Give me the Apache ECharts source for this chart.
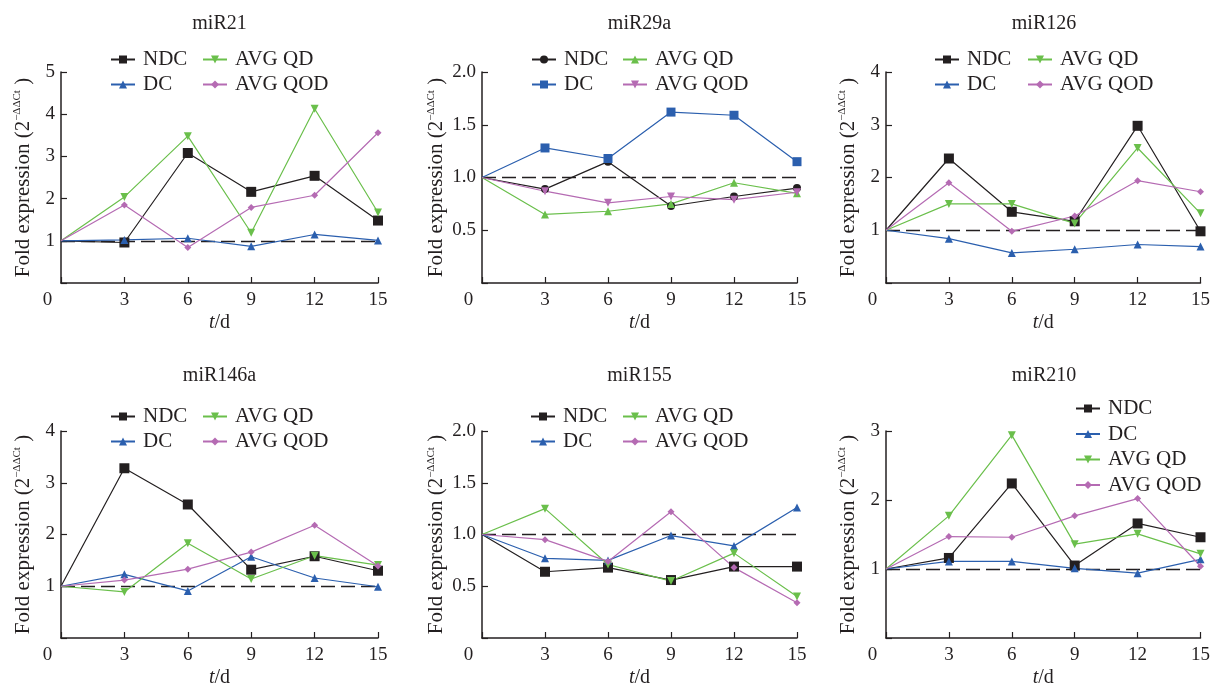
<!DOCTYPE html>
<html>
<head>
<meta charset="utf-8">
<script src="https://cdn.jsdelivr.net/npm/echarts@6/dist/echarts.min.js"></script>
<style>
html,body{margin:0;padding:0;background:#fff;}
#chart{width:1213px;height:689px;}
</style>
</head>
<body>
<div id="chart"></div>
<script>
// ---- data ----
const days = [0, 3, 6, 9, 12, 15];
const groupNames = ['NDC', 'DC', 'AVG QD', 'AVG QOD'];
const panelTitles = ['miR21', 'miR29a', 'miR126', 'miR146a', 'miR155', 'miR210'];
const yMaxes = [5, 2, 4, 4, 2, 3];
const yIntervals = [1, 0.5, 1, 1, 0.5, 1];
const baselineValue = 1;

const miR21_NDC = [1, 0.96, 3.08, 2.16, 2.54, 1.48];
const miR21_DC = [1, 1.02, 1.06, 0.87, 1.15, 1.01];
const miR21_QD = [1, 2.04, 3.48, 1.19, 4.13, 1.67];
const miR21_QOD = [1, 1.85, 0.84, 1.79, 2.08, 3.56];

const miR29a_NDC = [1, 0.89, 1.15, 0.73, 0.82, 0.90];
const miR29a_DC = [1, 1.28, 1.18, 1.62, 1.59, 1.15];
const miR29a_QD = [1, 0.65, 0.68, 0.75, 0.95, 0.85];
const miR29a_QOD = [1, 0.87, 0.76, 0.82, 0.79, 0.86];

const miR126_NDC = [1, 2.36, 1.35, 1.17, 2.98, 0.98];
const miR126_DC = [1, 0.84, 0.57, 0.64, 0.73, 0.69];
const miR126_QD = [1, 1.50, 1.50, 1.13, 2.56, 1.32];
const miR126_QOD = [1, 1.90, 0.98, 1.27, 1.94, 1.73];

const miR146a_NDC = [1, 3.28, 2.58, 1.32, 1.58, 1.30];
const miR146a_DC = [1, 1.23, 0.91, 1.57, 1.16, 0.99];
const miR146a_QD = [1, 0.89, 1.83, 1.14, 1.59, 1.41];
const miR146a_QOD = [1, 1.12, 1.33, 1.66, 2.18, 1.39];

const miR155_NDC = [1, 0.64, 0.68, 0.56, 0.69, 0.69];
const miR155_DC = [1, 0.77, 0.75, 0.99, 0.89, 1.26];
const miR155_QD = [1, 1.25, 0.71, 0.55, 0.82, 0.40];
const miR155_QOD = [1, 0.95, 0.74, 1.22, 0.68, 0.34];

const miR210_NDC = [1, 1.16, 2.24, 1.05, 1.66, 1.46];
const miR210_DC = [1, 1.11, 1.11, 1.01, 0.94, 1.14];
const miR210_QD = [1, 1.77, 2.94, 1.36, 1.51, 1.22];
const miR210_QOD = [1, 1.47, 1.46, 1.77, 2.02, 1.04];

const panelValues = [
  [miR21_NDC, miR21_DC, miR21_QD, miR21_QOD],
  [miR29a_NDC, miR29a_DC, miR29a_QD, miR29a_QOD],
  [miR126_NDC, miR126_DC, miR126_QD, miR126_QOD],
  [miR146a_NDC, miR146a_DC, miR146a_QD, miR146a_QOD],
  [miR155_NDC, miR155_DC, miR155_QD, miR155_QOD],
  [miR210_NDC, miR210_DC, miR210_QD, miR210_QOD]
];

// ---- styles ----
const FONT = '"Liberation Serif", "DejaVu Serif", serif';
const INK = '#231f20';
const colors = ['#231f20', '#2b5fae', '#6abf4b', '#b56bb3'];
const defaultSymbols = [
  {symbol: 'rect', size: 10, rotate: 0},
  {symbol: 'triangle', size: 8, rotate: 0},
  {symbol: 'triangle', size: 8, rotate: 180},
  {symbol: 'diamond', size: 7, rotate: 0}
];
const mir29Symbols = [
  {symbol: 'circle', size: 8, rotate: 0},
  {symbol: 'rect', size: 9, rotate: 0},
  {symbol: 'triangle', size: 8, rotate: 0},
  {symbol: 'triangle', size: 8, rotate: 180}
];

const grids = [
  {left: 61, top: 72, width: 317, height: 211},
  {left: 482, top: 72, width: 315, height: 211},
  {left: 886, top: 72, width: 316, height: 211},
  {left: 61, top: 431, width: 317, height: 211},
  {left: 482, top: 431, width: 315, height: 211},
  {left: 886, top: 431, width: 316, height: 211}
];
const titleY = [24, 24, 24, 376, 376, 376];

// legend placement: [col1Left, col2Left, top]
const legendPos = [
  [105, 197, 44],
  [526, 617, 44],
  [929, 1022, 44],
  [105, 197, 401],
  [525, 617, 401],
  null
];

const sep = '#';
const xAxes = [], yAxes = [], series = [], legends = [], graphics = [];

grids.forEach((g, i) => {
  xAxes.push({
    type: 'value', gridIndex: i, min: 0, max: 15, interval: 3,
    name: '{i|t}/d', nameLocation: 'middle', nameGap: 30,
    nameTextStyle: {fontFamily: FONT, fontSize: 20, color: INK,
      rich: {i: {fontStyle: 'italic', fontFamily: FONT, fontSize: 20, color: INK}}},
    axisLine: {lineStyle: {color: INK, width: 1.5}},
    axisTick: {inside: true, length: 6, lineStyle: {color: INK, width: 1.2}},
    splitLine: {show: false},
    axisLabel: {
      fontFamily: FONT, fontSize: 19, color: INK, margin: 8,
      formatter: v => v === 0 ? '{z|0}' : String(v),
      rich: {z: {fontFamily: FONT, fontSize: 19, color: INK, padding: [0, 27, 0, 0]}}
    }
  });
  yAxes.push({
    type: 'value', gridIndex: i, min: 0, max: yMaxes[i], interval: yIntervals[i],
    name: 'Fold expression (2{s|−ΔΔCt} )', nameLocation: 'middle', nameGap: 26,
    nameTextStyle: {fontFamily: FONT, fontSize: 21, color: INK, lineHeight: 23,
      rich: {s: {fontFamily: FONT, fontSize: 11, color: INK, verticalAlign: 'top', lineHeight: 23}}},
    axisLine: {lineStyle: {color: INK, width: 1.5}},
    axisTick: {inside: true, length: 6, lineStyle: {color: INK, width: 1.2}},
    splitLine: {show: false},
    axisLabel: {
      fontFamily: FONT, fontSize: 19, color: INK, margin: 6,
      formatter: v => v === 0 ? '' : (yIntervals[i] < 1 ? v.toFixed(1) : String(v))
    }
  });
  const syms = i === 1 ? mir29Symbols : defaultSymbols;
  panelValues[i].forEach((vals, k) => {
    const s = {
      type: 'line',
      name: groupNames[k] + sep + i,
      xAxisIndex: i, yAxisIndex: i,
      data: days.map((d, j) => j === 0 ? {value: [d, vals[j]], symbol: 'none'} : [d, vals[j]]),
      symbol: syms[k].symbol, symbolSize: syms[k].size, symbolRotate: syms[k].rotate,
      showSymbol: true,
      lineStyle: {color: colors[k], width: 1.2},
      itemStyle: {color: colors[k]},
      emphasis: {disabled: true},
      animation: false,
      z: 3
    };
    if (k === 0) {
      s.markLine = {
        silent: true, symbol: 'none', animation: false,
        label: {show: false},
        lineStyle: {color: INK, type: [14, 6], width: 1.4},
        data: [{yAxis: baselineValue}],
        z: 1
      };
    }
    series.push(s);
  });
  // titles
  graphics.push({
    type: 'text', x: g.left + g.width / 2, y: titleY[i],
    style: {text: panelTitles[i], font: '20px ' + FONT, fill: INK, align: 'center', verticalAlign: 'middle'}
  });
  // legends
  const legBase = {
    orient: 'vertical', itemWidth: 24, itemHeight: 10, itemGap: 4,
    textStyle: {fontFamily: FONT, fontSize: 21, color: INK, padding: [0, 0, 0, 3]},
    formatter: name => name.split(sep)[0],
    selectedMode: false
  };
  if (legendPos[i]) {
    const [c1, c2, top] = legendPos[i];
    legends.push(Object.assign({}, legBase, {left: c1, top: top,
      data: [groupNames[0] + sep + i, groupNames[1] + sep + i]}));
    legends.push(Object.assign({}, legBase, {left: c2, top: top,
      data: [groupNames[2] + sep + i, groupNames[3] + sep + i]}));
  } else {
    legends.push(Object.assign({}, legBase, {left: 1070, top: 393, itemGap: 4.5,
      data: groupNames.map(n => n + sep + i)}));
  }
});

const chart = echarts.init(document.getElementById('chart'), null, {renderer: 'canvas'});
chart.setOption({
  backgroundColor: '#ffffff',
  animation: false,
  grid: grids.map(g => Object.assign({containLabel: false}, g)),
  xAxis: xAxes,
  yAxis: yAxes,
  legend: legends,
  series: series,
  graphic: graphics
});
</script>
</body>
</html>
